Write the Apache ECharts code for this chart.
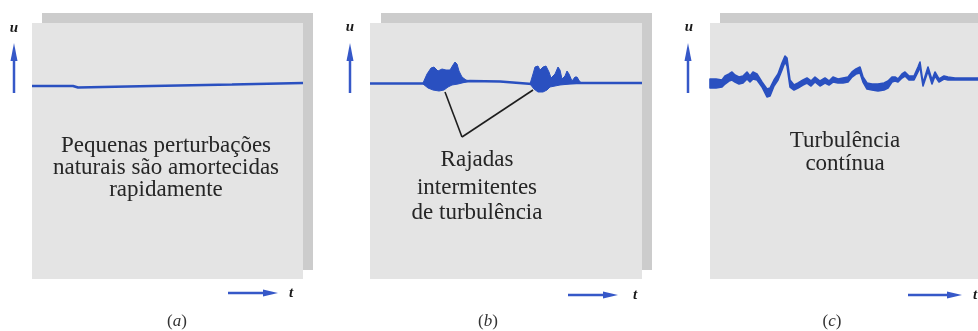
<!DOCTYPE html>
<html>
<head>
<meta charset="utf-8">
<script src="https://cdn.jsdelivr.net/npm/echarts@6/dist/echarts.min.js"></script>
<style>html,body{margin:0;padding:0;background:#fff;}#c{width:978px;height:331px;}</style>
</head>
<body>
<div id="c"></div>
<script>
// ---- Data (t along x, u deviation along y, arbitrary units) ----
const aTrace = [[0,-3],[41,-3],[46,-4.5],[120,-3],[200,-1.5],[271,0]];

const bTrace = [[0,-0.5],[55,-0.5],[75,0],[100,2],[130,1.5],[162,-1],[190,0],[213,0],[272,0]];
const bBurst1Upper = [[53,0],[57,9],[61,15],[64,16],[68,12],[72,14],[76,13],[80,13],[83,18],[85,21],[87,19],[89,12],[92,6],[96,3],[100,2]];
const bBurst1Lower = [[53,-1],[58,-5],[63,-7],[69,-8],[74,-7],[78,-4],[82,-2],[88,-1],[96,1],[100,2]];
const bBurst2Upper = [[160,-1],[163,9],[165,16],[168,17],[170,13],[173,16],[176,17],[179,11],[181,5],[185,9],[188,16],[190,13],[192,4],[195,7],[197,12],[199,9],[202,2],[205,6],[207,6],[210,1],[213,0]];
const bBurst2Lower = [[160,-1],[164,-6],[168,-9],[173,-9],[177,-7],[180,-4],[185,-3],[190,-2],[200,-1],[213,0]];
const bPointerStart1 = [75,-9];
const bPointerApex = [92,-54];
const bPointerEnd2 = [163,-7];

const cUpper = [[0,4],[6,4],[12,3],[15,7],[19,9],[22,11],[25,8],[29,6],[33,7],[37,11],[40,7],[43,11],[47,9],[52,1],[57,-6],[60,-5],[64,3],[68,9],[72,20],[75,27],[77,25],[80,3],[84,-2],[88,0],[93,3],[97,5],[101,2],[105,6],[110,2],[115,5],[119,2],[123,6],[128,4],[133,5],[138,6],[142,11],[146,14],[150,16],[153,6],[157,0],[162,-1],[168,-1],[174,0],[178,2],[182,6],[185,6],[188,4],[192,9],[195,11],[199,7],[204,7],[208,16],[210,21],[213,0],[218,16],[222,3],[225,11],[229,4],[234,7],[238,6],[245,5],[268,5]];
const cLower = [[0,-5],[6,-5],[12,-4],[15,-1],[19,2],[22,3],[25,1],[29,-1],[33,0],[37,4],[40,1],[43,4],[47,3],[52,-4],[57,-14],[60,-13],[64,-3],[68,3],[72,13],[75,21],[77,17],[80,-4],[84,-7],[88,-5],[93,-2],[97,0],[101,-3],[105,1],[110,-3],[115,0],[119,-2],[123,1],[128,0],[133,0],[138,1],[142,6],[146,9],[150,10],[153,1],[157,-6],[162,-7],[168,-8],[174,-7],[178,-5],[182,1],[185,2],[188,1],[192,5],[195,7],[199,3],[204,3],[208,11],[210,16],[213,-3],[218,12],[222,-1],[225,7],[229,1],[234,4],[238,3],[245,3],[268,3]];

const panelTexts = {
  a: ['Pequenas perturbações', 'naturais são amortecidas', 'rapidamente'],
  b: ['Rajadas', 'intermitentes', 'de turbulência'],
  c: ['Turbulência', 'contínua']
};
const panelLetters = ['a', 'b', 'c'];
const axisNames = ['u', 't'];

// ---- Styling ----
const BLUE = '#2a50c0';
const ARROW = '#3658c8';
const FRONT = '#e4e4e4';
const SHADOW = '#cccccc';
const SERIF = "'Liberation Serif','Times New Roman',serif";

const chart = echarts.init(document.getElementById('c'), null, {renderer: 'canvas'});

const grids = [
  {left: 32, top: 23, width: 271, height: 256},
  {left: 370, top: 23, width: 272, height: 256},
  {left: 710, top: 23, width: 268, height: 256}
];
const xMax = [271, 272, 268];

function multiBand(pairs, lw) {
  return function (params, api) {
    return {
      type: 'group',
      children: pairs.map(([u, l]) => ({
        type: 'polygon',
        shape: {points: u.map(p => api.coord(p)).concat(l.slice().reverse().map(p => api.coord(p)))},
        style: {fill: BLUE, stroke: BLUE, lineWidth: lw, lineJoin: 'round'}
      }))
    };
  };
}

function upArrow(x, yBottom, yTip) {
  return [
    {type: 'line', shape: {x1: x, y1: yBottom, x2: x, y2: yTip + 14}, style: {stroke: ARROW, lineWidth: 2.5}, z: 5},
    {type: 'polygon', shape: {points: [[x, yTip], [x - 3.5, yTip + 18], [x + 3.5, yTip + 18]]}, style: {fill: ARROW}, z: 5}
  ];
}
function rightArrow(xStart, xTip, y) {
  return [
    {type: 'line', shape: {x1: xStart, y1: y, x2: xTip - 12, y2: y}, style: {stroke: ARROW, lineWidth: 2.5}, z: 5},
    {type: 'polygon', shape: {points: [[xTip, y], [xTip - 15, y - 3.5], [xTip - 15, y + 3.5]]}, style: {fill: ARROW}, z: 5}
  ];
}
function txt(x, y, s, size) {
  return {
    type: 'text', x: x, y: y, z: 6,
    style: {text: s, fill: '#262626', font: size + 'px ' + SERIF, align: 'center', verticalAlign: 'middle'}
  };
}
function axisLabel(x, y, s) {
  return {type: 'text', x: x, y: y, z: 6, style: {text: s, fill: '#1a1a1a', font: 'italic bold 15px ' + SERIF, align: 'center', verticalAlign: 'middle'}};
}
function caption(x, y, letter) {
  return {type: 'text', x: x, y: y, z: 6, style: {
    text: '{p|(}{l|' + letter + '}{p|)}', align: 'center', verticalAlign: 'middle',
    rich: {p: {font: '17px ' + SERIF, fill: '#333'}, l: {font: 'italic 17px ' + SERIF, fill: '#333'}}
  }};
}

const graphic = [
  // shadows
  {type: 'rect', shape: {x: 42, y: 13, width: 271, height: 257}, style: {fill: SHADOW}, z: -20},
  {type: 'rect', shape: {x: 381, y: 13, width: 271, height: 257}, style: {fill: SHADOW}, z: -20},
  {type: 'rect', shape: {x: 720, y: 13, width: 270, height: 257}, style: {fill: SHADOW}, z: -20},
  // fronts
  {type: 'rect', shape: {x: 32, y: 23, width: 271, height: 256}, style: {fill: FRONT}, z: -10},
  {type: 'rect', shape: {x: 370, y: 23, width: 272, height: 256}, style: {fill: FRONT}, z: -10},
  {type: 'rect', shape: {x: 710, y: 23, width: 280, height: 256}, style: {fill: FRONT}, z: -10},
  ...upArrow(14, 93, 43), ...upArrow(350, 93, 43), ...upArrow(688, 93, 43),
  ...rightArrow(228, 278, 293), ...rightArrow(568, 618, 295), ...rightArrow(908, 962, 295),
  axisLabel(14, 28, axisNames[0]), axisLabel(350, 27, axisNames[0]), axisLabel(689, 27, axisNames[0]),
  axisLabel(291, 293, axisNames[1]), axisLabel(635, 295, axisNames[1]), axisLabel(975, 295, axisNames[1]),
  txt(166, 146, panelTexts.a[0], 23), txt(166, 168, panelTexts.a[1], 23), txt(166, 190, panelTexts.a[2], 23),
  txt(477, 160, panelTexts.b[0], 23), txt(477, 188, panelTexts.b[1], 23), txt(477, 213, panelTexts.b[2], 23),
  txt(845, 141, panelTexts.c[0], 23), txt(845, 164, panelTexts.c[1], 23),
  caption(177, 322, panelLetters[0]), caption(488, 322, panelLetters[1]), caption(832, 322, panelLetters[2])
];

const option = {
  animation: false,
  backgroundColor: '#ffffff',
  grid: grids,
  xAxis: grids.map((g, i) => ({type: 'value', gridIndex: i, min: 0, max: xMax[i], show: false})),
  yAxis: grids.map((g, i) => ({type: 'value', gridIndex: i, min: -196, max: 60, show: false})),
  graphic: graphic,
  series: [
    {type: 'line', xAxisIndex: 0, yAxisIndex: 0, data: aTrace, showSymbol: false, symbol: 'none',
      lineStyle: {color: BLUE, width: 2.5}, z: 3},
    {type: 'line', xAxisIndex: 1, yAxisIndex: 1, data: bTrace, showSymbol: false, symbol: 'none',
      lineStyle: {color: BLUE, width: 2.5}, z: 3,
      markLine: {silent: true, symbol: ['none', 'none'], label: {show: false},
        lineStyle: {color: '#1e1e1e', width: 1.6, type: 'solid'},
        emphasis: {disabled: true},
        data: [[{coord: bPointerStart1}, {coord: bPointerApex}], [{coord: bPointerApex}, {coord: bPointerEnd2}]]}},
    {type: 'custom', xAxisIndex: 1, yAxisIndex: 1, data: [[0, 0]], z: 4, clip: false,
      renderItem: multiBand([[bBurst1Upper, bBurst1Lower], [bBurst2Upper, bBurst2Lower]], 1)},
    {type: 'custom', xAxisIndex: 2, yAxisIndex: 2, data: [[0, 0]], z: 4, clip: false,
      renderItem: multiBand([[cUpper, cLower]], 1.6)}
  ]
};
chart.setOption(option);
</script>
</body>
</html>
